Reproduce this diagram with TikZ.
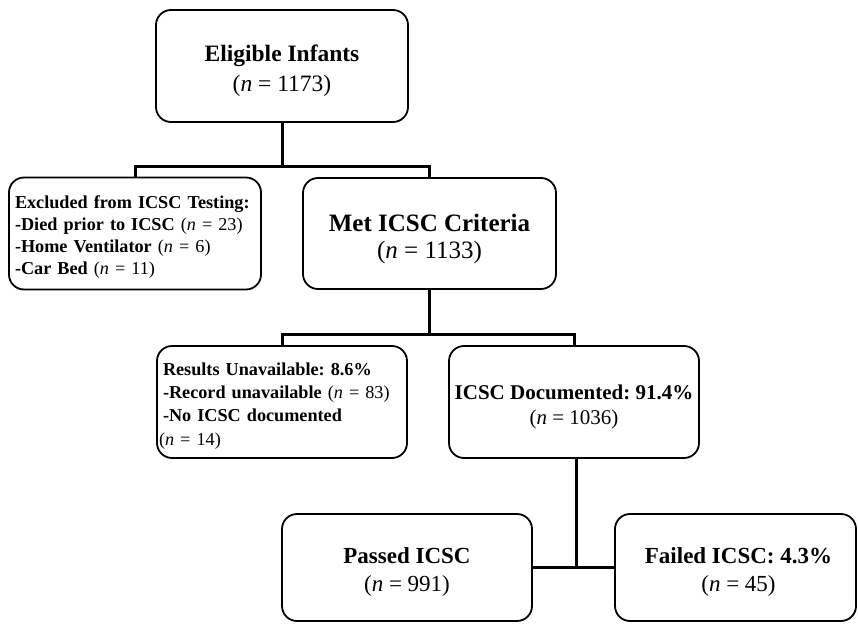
\documentclass[tikz,border=0pt]{standalone}
\usepackage{fontspec}
\setmainfont{Liberation Serif}
\frenchspacing
\newcommand\topgap{\rule{0pt}{1.12em}}
\begin{document}
\begin{tikzpicture}[x=1pt,y=-1pt,
  box/.style={draw, line width=1.8pt, rounded corners=15pt, inner sep=0pt,
    minimum height=112pt, align=center},
  lbox/.style={draw, line width=1.8pt, rounded corners=15pt, inner ysep=0pt, inner xsep=6pt,
    minimum height=112pt, align=left},
  conn/.style={line width=3pt}]
\useasboundingbox (0,0) rectangle (858,623);
\node[box, minimum width=252pt, font=\fontsize{23.5}{30}\selectfont] (top) at (282,66)
  {\topgap\textbf{Eligible Infants}\\(\textit{n} = 1173)};
\node[lbox, text width=240pt, font=\fontsize{18.2}{22}\selectfont] (excl) at (135,233.5)
  {\topgap\textbf{Excluded from ICSC Testing:}\\
   \textbf{-Died prior to ICSC} (\textit{n} = 23)\\
   \textbf{-Home Ventilator} (\textit{n} = 6)\\
   \textbf{-Car Bed} (\textit{n} = 11)};
\node[box, minimum width=253pt, minimum height=111pt, font=\fontsize{25}{27}\selectfont] (met) at (429.5,233.5)
  {\topgap\textbf{Met ICSC Criteria}\\(\textit{n} = 1133)};
\node[lbox, text width=238pt, font=\fontsize{18.2}{23.3}\selectfont] (res) at (282,402)
  {\topgap\textbf{Results Unavailable: 8.6\%}\\
   \textbf{-Record unavailable} (\textit{n} = 83)\\
   \textbf{-No ICSC documented}\\
   \hspace*{-4pt}(\textit{n} = 14)};
\node[box, minimum width=250pt, font=\fontsize{21}{25}\selectfont] (doc) at (574,402)
  {\topgap\textbf{ICSC Documented: 91.4\%}\\(\textit{n} = 1036)};
\node[box, minimum width=250pt, minimum height=107pt, font=\fontsize{23}{28}\selectfont] (pass) at (407,567.5)
  {\topgap\textbf{Passed ICSC}\\(\textit{n} = 991)};
\node[box, minimum width=241pt, minimum height=107pt, font=\fontsize{23}{28}\selectfont] (fail) at (735.5,567.5)
  {\topgap\hspace*{6pt}\textbf{Failed ICSC: 4.3\%}\\\hspace*{6pt}(\textit{n} = 45)};
\coordinate (j1) at (282,166);
\coordinate (j2) at (429.5,334);
\coordinate (j3) at (576,567.5);
\draw[conn] (top.south) -- (j1);
\draw[conn] (excl.north) |- (j1) -| (met.north);
\draw[conn] (met.south) -- (j2);
\draw[conn] (res.north) |- (j2) -| (doc.north);
\draw[conn] (doc.south -| j3) -- (j3);
\draw[conn] (pass.east) -- (fail.west);
\end{tikzpicture}
\end{document}
